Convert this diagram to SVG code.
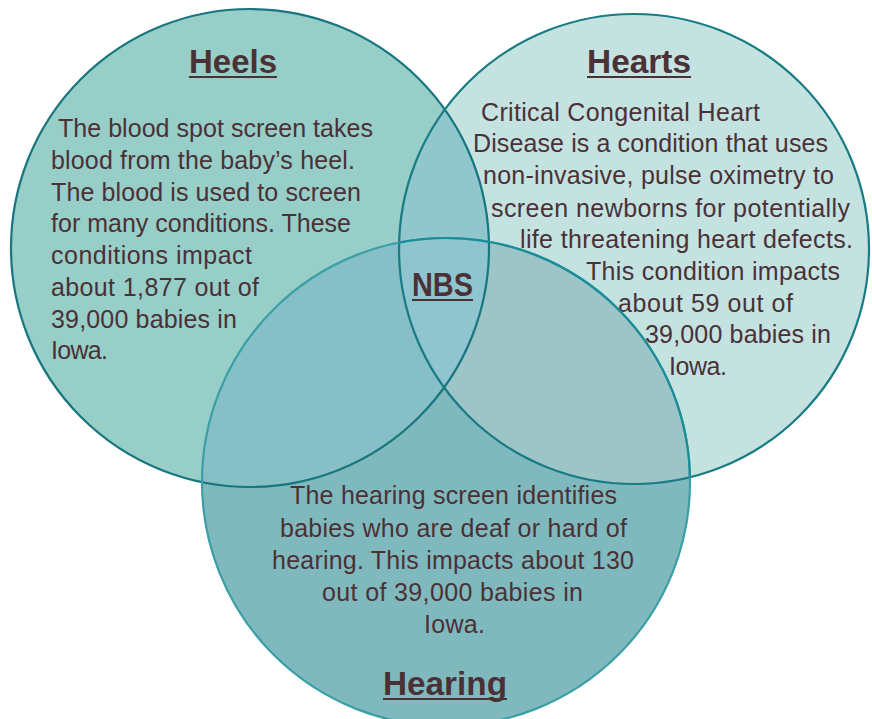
<svg xmlns="http://www.w3.org/2000/svg" width="872" height="719" viewBox="0 0 872 719">
<style>
.body{font-family:"Liberation Sans","Noto Sans",sans-serif;font-size:25px;fill:#4a3136}
.title{font-family:"Liberation Sans","Noto Sans",sans-serif;font-size:34px;font-weight:bold;fill:#4a3136}
.ul{stroke:#4a3136;stroke-width:2}
.edge{fill:none;stroke-width:2.2}
</style>
<defs>
<clipPath id="cHeels"><circle cx="250" cy="248" r="239"/></clipPath>
<clipPath id="cHearts"><circle cx="634" cy="249" r="235"/></clipPath>
</defs>
<rect width="872" height="719" fill="#ffffff"/>
<g id="fills">
<circle cx="250" cy="248" r="239" fill="#97cec8"/>
<circle cx="634" cy="249" r="235" fill="#c4e2e0"/>
<circle cx="634" cy="249" r="235" fill="#90c6cc" clip-path="url(#cHeels)"/>
<circle cx="446" cy="482" r="244" fill="#80b9bd"/>
<circle cx="446" cy="482" r="244" fill="#86bfc6" clip-path="url(#cHeels)"/>
<circle cx="446" cy="482" r="244" fill="#9dc4c6" clip-path="url(#cHearts)"/>
<g clip-path="url(#cHearts)"><circle cx="446" cy="482" r="244" fill="#8ec5ce" clip-path="url(#cHeels)"/></g>
</g>
<g id="connectors"/>
<g id="node-heels">
<circle class="edge" cx="250" cy="248" r="239" stroke="#17767e"/>
<text class="title" x="189" y="73" textLength="88" lengthAdjust="spacingAndGlyphs">Heels</text>
<line class="ul" x1="189" y1="77" x2="277" y2="77"/>
<text class="body" x="58" y="137" textLength="315">The blood spot screen takes</text>
<text class="body" x="51" y="169" textLength="304">blood from the baby’s heel.</text>
<text class="body" x="51" y="201" textLength="310">The blood is used to screen</text>
<text class="body" x="51" y="232" textLength="300">for many conditions. These</text>
<text class="body" x="51" y="264" textLength="201">conditions impact</text>
<text class="body" x="51" y="296" textLength="208">about 1,877 out of</text>
<text class="body" x="51" y="328" textLength="186">39,000 babies in</text>
<text class="body" x="51" y="359" textLength="57">Iowa.</text>
</g>
<g id="node-hearts">
<circle class="edge" cx="634" cy="249" r="235" stroke="#197c84"/>
<text class="title" x="587" y="73" textLength="104" lengthAdjust="spacingAndGlyphs">Hearts</text>
<line class="ul" x1="587" y1="77" x2="691" y2="77"/>
<text class="body" x="481" y="121" textLength="279">Critical Congenital Heart</text>
<text class="body" x="473" y="152" textLength="355">Disease is a condition that uses</text>
<text class="body" x="483" y="184" textLength="351">non-invasive, pulse oximetry to</text>
<text class="body" x="491" y="217" textLength="359">screen newborns for potentially</text>
<text class="body" x="520" y="248" textLength="333">life threatening heart defects.</text>
<text class="body" x="586" y="280" textLength="254">This condition impacts</text>
<text class="body" x="618" y="312" textLength="175">about 59 out of</text>
<text class="body" x="645" y="343" textLength="186">39,000 babies in</text>
<text class="body" x="669" y="375" textLength="58">Iowa.</text>
</g>
<g id="node-hearing">
<circle class="edge" cx="446" cy="482" r="244" stroke="#3a9fa7"/>
<circle class="edge" cx="446" cy="482" r="244" stroke="#1a8d98" clip-path="url(#cHearts)"/>
<text class="body" x="290" y="504" textLength="327">The hearing screen identifies</text>
<text class="body" x="280" y="537" textLength="347">babies who are deaf or hard of</text>
<text class="body" x="272" y="569" textLength="362">hearing. This impacts about 130</text>
<text class="body" x="322" y="601" textLength="261">out of 39,000 babies in</text>
<text class="body" x="424" y="633" textLength="61">Iowa.</text>
<text class="title" x="383" y="695" textLength="124" lengthAdjust="spacingAndGlyphs">Hearing</text>
<line class="ul" x1="383" y1="699" x2="507" y2="699"/>
</g>
<g id="node-nbs">
<text class="title" x="412" y="296" textLength="61" lengthAdjust="spacingAndGlyphs">NBS</text>
<line class="ul" x1="412" y1="300" x2="473" y2="300"/>
</g>
</svg>
